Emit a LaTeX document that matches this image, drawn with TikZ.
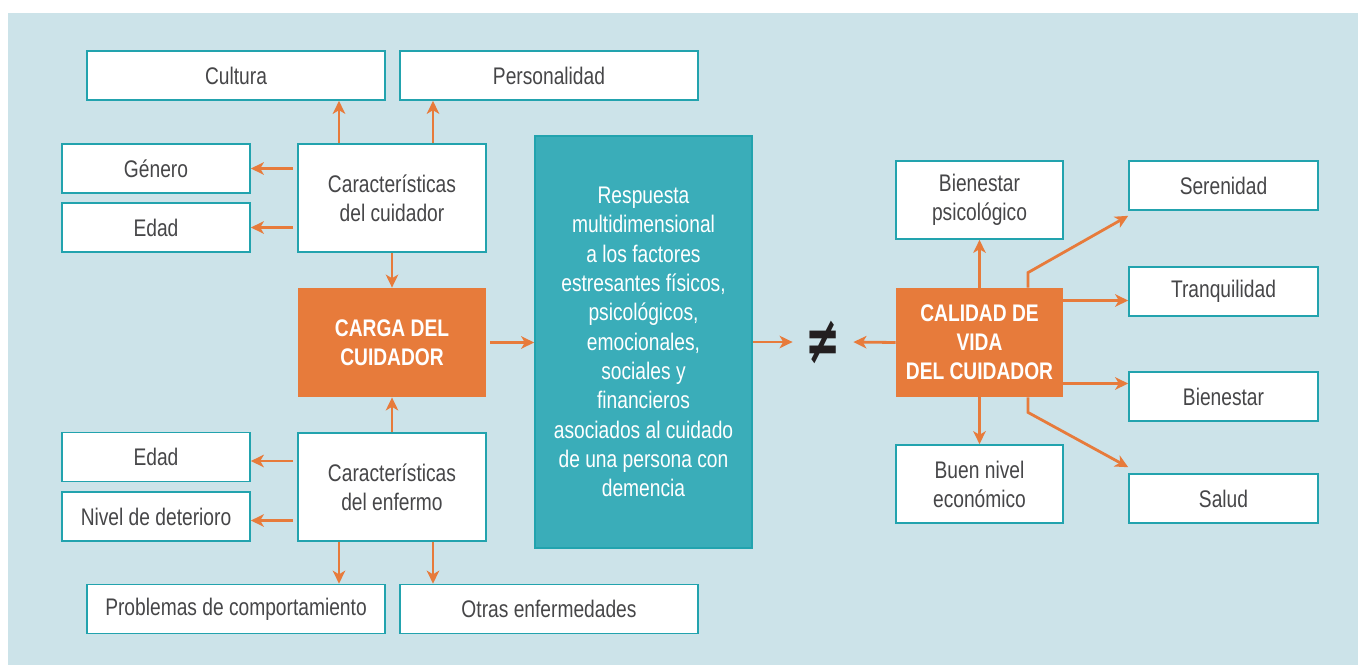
\documentclass[tikz,border=0pt]{standalone}
\usepackage{fontspec}
\usepackage{graphicx}
\setmainfont{Liberation Sans}[FakeStretch=0.8]
\newfontfamily\symfont{DejaVu Sans}
\usetikzlibrary{arrows.meta,calc}
\definecolor{bgc}{HTML}{CCE3E9}
\definecolor{tealline}{HTML}{22A3AE}
\definecolor{tealfill}{HTML}{3AADB9}
\definecolor{orng}{HTML}{E77B3B}
\definecolor{txt}{HTML}{464648}
\definecolor{symc}{HTML}{231F20}
\begin{document}
\begin{tikzpicture}[x=0.5pt,y=-0.5pt,
  box/.style={draw=tealline, line width=0.8pt, fill=white, text=txt,
    font=\fontsize{12}{14.5}\selectfont, align=center, inner sep=0pt,
    minimum height=24.5pt},
  wide/.style={box, minimum width=149pt},
  mid/.style={box, minimum width=94pt},
  tall/.style={box, minimum width=94pt, minimum height=54pt},
  rbox/.style={box, minimum width=83.5pt, minimum height=39pt},
  sbox/.style={box, minimum width=94.5pt},
  obox/.style={fill=orng, draw=none, text=white,
    font=\fontsize{12}{14.5}\selectfont\bfseries, align=center, inner sep=0pt},
  arr/.style={draw=orng, line width=1.4pt,
    -{Stealth[length=6.5pt,width=6.2pt,inset=1.8pt]}},
  gap/.style={shorten <=2pt}
]
\useasboundingbox (0,0) rectangle (1358,665);
\fill[bgc] (8,13) rectangle (1358,665);

% left column
\node[wide] (cultura) at (236,75.5) {Cultura};
\node[wide] (personalidad) at (549,75.5) {Personalidad};
\node[mid] (genero) at (156,168.5) {Género};
\node[mid] (edad1) at (156,227.5) {Edad};
\node[tall] (cuidador) at (392,198) {Características\\del cuidador};
\node[obox, minimum width=94pt, minimum height=54.5pt] (carga) at (392,342.5) {CARGA DEL\\CUIDADOR};
\node[tall] (enfermo) at (392,487) {Características\\del enfermo};
\node[mid] (edad2) at (156,457) {Edad};
\node[mid] (nivel) at (156,516.5) {Nivel de deterioro};
\node[wide] (problemas) at (236,609) {Problemas de comportamiento};
\node[wide] (otras) at (549,609) {Otras enfermedades};

% central
\node[draw=tealline, line width=0.8pt, fill=tealfill, text=white,
  font=\fontsize{12}{14.65}\selectfont, align=center, inner sep=0pt,
  minimum width=108.5pt, minimum height=206pt] (resp) at (643.5,342)
  {Respuesta\\multidimensional\\a los factores\\estresantes físicos,\\psicológicos,\\emocionales,\\sociales y\\financieros\\asociados al cuidado\\de una persona con\\demencia};
\node[text=symc, font=\symfont\bfseries\fontsize{21}{21}\selectfont,
  inner sep=0pt, minimum width=30pt, minimum height=20pt] (neq) at (823,342) {\scalebox{1}[1.6]{≠}};

% right
\node[obox, minimum width=83.5pt, minimum height=54.5pt] (calidad) at (979.5,342.5) {CALIDAD DE\\VIDA\\DEL CUIDADOR};
\node[rbox] (bpsico) at (979.5,200) {Bienestar\\psicológico};
\node[rbox] (buen) at (979.5,484) {Buen nivel\\económico};
\node[sbox] (seren) at (1223.5,185.5) {Serenidad};
\node[sbox] (tranq) at (1223.5,291.5) {Tranquilidad};
\node[sbox] (bien) at (1223.5,396.5) {Bienestar};
\node[sbox] (salud) at (1223.5,498.5) {Salud};

% arrows left
\draw[arr] ([xshift=-26.5pt]cuidador.north) -- ([xshift=-26.5pt]cuidador.north |- cultura.south);
\draw[arr] ([xshift=20.5pt]cuidador.north) -- ([xshift=20.5pt]cuidador.north |- personalidad.south);
\draw[arr,gap] (cuidador.west |- genero.east) -- (genero.east);
\draw[arr,gap] (cuidador.west |- edad1.east) -- (edad1.east);
\draw[arr] (cuidador.south) -- (carga.north);
\draw[arr] (enfermo.north) -- (carga.south);
\draw[arr,gap] ([yshift=-2pt]enfermo.west |- edad2.east) -- ([yshift=-2pt]edad2.east);
\draw[arr,gap] ([yshift=-2pt]enfermo.west |- nivel.east) -- ([yshift=-2pt]nivel.east);
\draw[arr] ([xshift=-26.5pt]enfermo.south) -- ([xshift=-26.5pt]enfermo.south |- problemas.north);
\draw[arr] ([xshift=20.5pt]enfermo.south) -- ([xshift=20.5pt]enfermo.south |- otras.north);

% central arrows
\draw[arr,gap] (carga.east) -- (carga.east -| resp.west);
\draw[arr] (resp.east) -- (neq.west);
\draw[arr] (calidad.west) -- (neq.east);

% right arrows
\draw[arr] (calidad.north) -- (bpsico.south);
\draw[arr] (calidad.south) -- (buen.north);
\draw[arr] ([xshift=24.25pt]calidad.north) -- ++(0,-15) -- ([yshift=-2.5pt]seren.south west);
\draw[arr] ([yshift=21pt]calidad.east) -- ([yshift=21pt]calidad.east -| tranq.west);
\draw[arr] ([yshift=-20.5pt]calidad.east) -- ([yshift=-20.5pt]calidad.east -| bien.west);
\draw[arr] ([xshift=24.25pt]calidad.south) -- ++(0,15) -- ([yshift=3pt]salud.north west);
\end{tikzpicture}
\end{document}
